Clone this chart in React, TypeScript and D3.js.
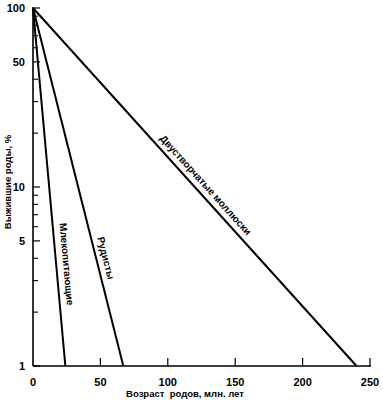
import React from "react";
import * as d3 from "d3";

const seriesNames = ["Млекопитающие", "Рудисты", "Двустворчатые моллюски"];
const startAge = [0, 0, 0];
const startSurvival = [100, 100, 100];
const endAge = [24, 67, 240];
const endSurvival = [1, 1, 1];
const labelFraction = [0.718, 0.705, 0.512];
const labelOffset = [7, 6, 6];

const xTicks = [0, 50, 100, 150, 200, 250];
const yTickLabels = [100, 50, 10, 5, 1];
const yMinorTicks = [2, 3, 4, 6, 7, 8, 9, 20, 30, 40, 60, 70, 80, 90];

const W = 383;
const H = 400;

export default function App() {
  const x = d3.scaleLinear().domain([0, 250]).range([33, 370]);
  const y = d3.scaleLog().domain([1, 100]).range([366, 8]);
  const line = d3
    .line<[number, number]>()
    .x((d) => x(d[0]))
    .y((d) => y(d[1]));
  const font = "'Liberation Sans', Arial, sans-serif";

  return (
    <svg
      width={W}
      height={H}
      style={{ position: "absolute", left: 0, top: 0, background: "#fff" }}
      fontFamily={font}
    >
      {/* axes */}
      <line x1={x(0)} x2={x(0)} y1={y(100) - 1} y2={y(1)} stroke="#000" strokeWidth={1.6} />
      <line x1={x(0)} x2={x(250) + 1} y1={y(1)} y2={y(1)} stroke="#000" strokeWidth={1.6} />
      {yTickLabels.map((v) => (
        <g key={"yt" + v}>
          <line x1={x(0)} x2={x(0) + 7} y1={y(v)} y2={y(v)} stroke="#000" strokeWidth={1.2} />
          <text
            x={25}
            y={y(v)}
            dy="0.35em"
            textAnchor="end"
            fontSize={11}
            fontWeight="bold"
          >
            {v}
          </text>
        </g>
      ))}
      {yMinorTicks.map((v) => (
        <line key={"ym" + v} x1={x(0)} x2={x(0) + 5} y1={y(v)} y2={y(v)} stroke="#000" strokeWidth={1.1} />
      ))}
      {xTicks.map((v) => (
        <g key={"xt" + v}>
          {v > 0 && (
            <line x1={x(v)} x2={x(v)} y1={y(1)} y2={y(1) - 8} stroke="#000" strokeWidth={1.2} />
          )}
          <text x={x(v)} y={386} textAnchor="middle" fontSize={11} fontWeight="bold">
            {v}
          </text>
        </g>
      ))}
      <text
        x={185}
        y={397}
        textAnchor="middle"
        fontSize={9.5}
        fontWeight="bold"
        style={{ whiteSpace: "pre" }}
      >
        {"Возраст\u00a0 родов, млн. лет"}
      </text>
      <text
        transform={`translate(11, 182) rotate(-90)`}
        textAnchor="middle"
        fontSize={9.5}
        fontWeight="bold"
      >
        Выжившие роды, %
      </text>

      {/* series lines */}
      {seriesNames.map((name, i) => {
        const p0: [number, number] = [startAge[i], startSurvival[i]];
        const p1: [number, number] = [endAge[i], endSurvival[i]];
        const x0 = x(p0[0]);
        const y0 = y(p0[1]);
        const x1 = x(p1[0]);
        const y1 = y(p1[1]);
        const ang = Math.atan2(y1 - y0, x1 - x0);
        const t = labelFraction[i];
        const cx = x0 + (x1 - x0) * t;
        const cy = y0 + (y1 - y0) * t;
        const off = labelOffset[i];
        const lx = cx + Math.sin(ang) * off;
        const ly = cy - Math.cos(ang) * off;
        return (
          <g key={name}>
            <path d={line([p0, p1]) || ""} fill="none" stroke="#000" strokeWidth={2} />
            <text
              transform={`translate(${lx}, ${ly}) rotate(${(ang * 180) / Math.PI})`}
              textAnchor="middle"
              fontSize={10}
              fontWeight="bold"
            >
              {name}
            </text>
          </g>
        );
      })}
    </svg>
  );
}
